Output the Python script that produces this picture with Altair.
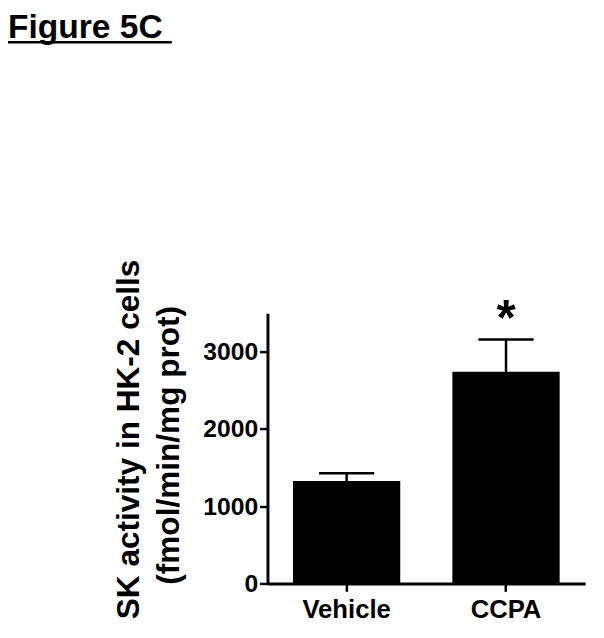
import altair as alt
import pandas as pd

# ---- data ----
groups = ["Vehicle", "CCPA"]
means = [1325, 2740]
sems = [102, 419]
sig = ["", "*"]
y_ticks = [0, 1000, 2000, 3000]
y_max = 3500

fig_title = "Figure 5C"
y_title_1 = "SK activity in HK-2 cells"
y_title_2 = "(fmol/min/mg prot)"

FONT = "Liberation Sans"

df = pd.DataFrame({
    "group": groups,
    "mean": means,
    "upper": [m + s for m, s in zip(means, sems)],
    "sig": sig,
})

xenc = alt.X("group:N", sort=groups, title=None,
             scale=alt.Scale(paddingInner=0.327, paddingOuter=0.16),
             axis=alt.Axis(labelAngle=0, labelFont=FONT, labelFontSize=26,
                           labelFontWeight="bold", labelColor="black",
                           labelPadding=6, tickSize=8, tickWidth=2.5,
                           tickColor="black", domainColor="black",
                           domainWidth=3))

yscale = alt.Scale(domain=[0, y_max], nice=False)
yaxis = alt.Axis(values=y_ticks, format="d", grid=False, labelFont=FONT,
                 labelFontSize=25, labelFontWeight="bold", labelColor="black",
                 labelPadding=2, tickSize=8, tickWidth=2.5, tickColor="black",
                 domainColor="black", domainWidth=3, title=None)

base = alt.Chart(df)

err = base.mark_rule(color="black", strokeWidth=2.5).encode(
    x=xenc,
    y=alt.Y("mean:Q", scale=yscale, axis=yaxis),
    y2="upper:Q",
)
cap = base.mark_tick(color="black", size=56, thickness=2.5, opacity=1).encode(
    x=xenc,
    y=alt.Y("upper:Q", scale=yscale),
)
bars = base.mark_bar(color="black").encode(
    x=xenc,
    y=alt.Y("mean:Q", scale=yscale, axis=yaxis),
)
stars = base.mark_text(font=FONT, fontSize=50, fontWeight="bold",
                       color="black", baseline="alphabetic", dy=-5).encode(
    x=xenc,
    y=alt.Y("upper:Q", scale=yscale),
    text="sig:N",
)

ann = pd.DataFrame({"t1": [y_title_1], "t2": [y_title_2], "ft": [fig_title]})
abase = alt.Chart(ann)

ytitle1 = abase.mark_text(font=FONT, fontSize=32, fontWeight="bold", color="black",
                          angle=270, align="center", baseline="middle").encode(
    x=alt.value(-140), y=alt.value(128), text="t1:N")
ytitle2 = abase.mark_text(font=FONT, fontSize=32, fontWeight="bold", color="black",
                          angle=270, align="center", baseline="middle").encode(
    x=alt.value(-100), y=alt.value(134), text="t2:N")
ftitle = abase.mark_text(font=FONT, fontSize=34, fontWeight="bold", color="black",
                         align="left", baseline="alphabetic").encode(
    x=alt.value(-263), y=alt.value(-279), text="ft:N")
uline = abase.mark_rule(color="black", strokeWidth=2.5).encode(
    x=alt.value(-264), x2=alt.value(-97), y=alt.value(-274.5))

chart = alt.layer(err, bars, cap, stars, ytitle1, ytitle2, ftitle, uline).properties(
    width=322, height=274,
    autosize=alt.AutoSizeParams(type="none"),
    padding={"left": 263, "top": 305, "right": 11, "bottom": 51},
    background="white",
).configure_view(stroke=None)

chart.save("out.html", embed_options={"renderer": "svg", "actions": False})
